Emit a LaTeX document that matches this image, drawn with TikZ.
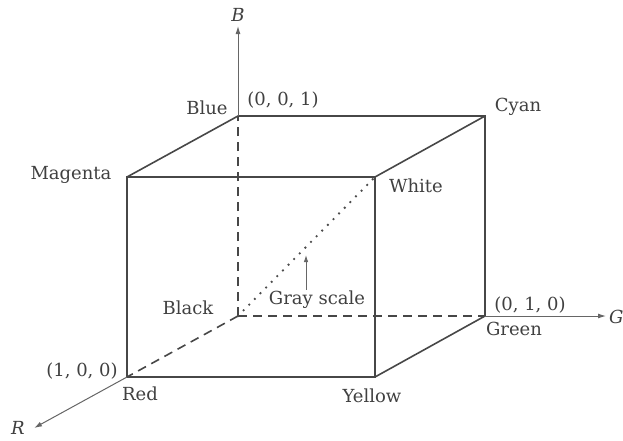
\documentclass[tikz,border=0pt]{standalone}
\usepackage{fontspec}
\setmainfont{DejaVu Serif}
\usetikzlibrary{arrows.meta}

\begin{document}
\begin{tikzpicture}[x=1pt, y=-1pt,
  edge/.style={draw=black!72, line width=1.6pt},
  hidden/.style={edge, dash pattern=on 9pt off 6pt},
  axis/.style={draw=black!60, line width=1pt, -{Latex[length=8pt,width=5pt]}},
  lbl/.style={text=black!75, font=\fontsize{18}{20}\selectfont, inner sep=1pt},
  axlbl/.style={lbl, font=\fontsize{18}{20}\selectfont\itshape}]
\useasboundingbox (0,0) rectangle (623,440);
% Corners of the cube
\coordinate (black)   at (238,316);
\coordinate (blue)    at (238,116);
\coordinate (cyan)    at (485,116);
\coordinate (green)   at (485,316);
\coordinate (red)     at (127,377);
\coordinate (yellow)  at (375,377);
\coordinate (white)   at (375,177);
\coordinate (magenta) at (127,177);
% Axis ends
\coordinate (Bend) at (238,26);
\coordinate (Gend) at (606,316);
\coordinate (Rend) at (34,428);
\coordinate (gsTip) at (306,255);
% Hidden edges
\draw[hidden] (black) -- (blue);
\draw[hidden] (black) -- (green);
\draw[hidden] (black) -- (red);
% Gray scale diagonal
\draw[black!70, line width=2.6pt, line cap=round, dash pattern=on 0pt off 8pt] (black) -- (white);
% Visible edges
\draw[edge] (magenta) -- (white) -- (yellow) -- (red) -- cycle;
\draw[edge] (magenta) -- (blue) -- (cyan) -- (green) -- (yellow);
\draw[edge] (white) -- (cyan);
% Axes
\draw[axis] (blue) -- (Bend);
\draw[axis] (green) -- (Gend);
\draw[axis] (red) -- (Rend);
% Labels
\node[axlbl] (Blbl) at (238,15) {B};
\node[axlbl, anchor=west, inner sep=0pt] (Glbl) at (609,317) {G};
\node[axlbl] (Rlbl) at (18,428) {R};
\node[lbl] (bluelbl) at (207,108) {Blue};
\node[lbl] (p001) at (283,100) {(0, 0, 1)};
\node[lbl] (cyanlbl) at (518,107) {Cyan};
\node[lbl] (magentalbl) at (71,175) {Magenta};
\node[lbl] (whitelbl) at (416,186) {White};
\node[lbl] (blacklbl) at (188,308) {Black};
\node[lbl] (gray) at (317,300) {Gray scale};
\node[lbl] (p010) at (530,305) {(0, 1, 0)};
\node[lbl] (greenlbl) at (514,329) {Green};
\node[lbl] (p100) at (82,371) {(1, 0, 0)};
\node[lbl] (redlbl) at (140,394) {Red};
\node[lbl] (yellowlbl) at (372,396) {Yellow};
\draw[axis, line width=0.9pt, -{Latex[length=7pt,width=4.5pt]}] (gray.north -| gsTip) -- (gsTip);
\end{tikzpicture}
\end{document}
